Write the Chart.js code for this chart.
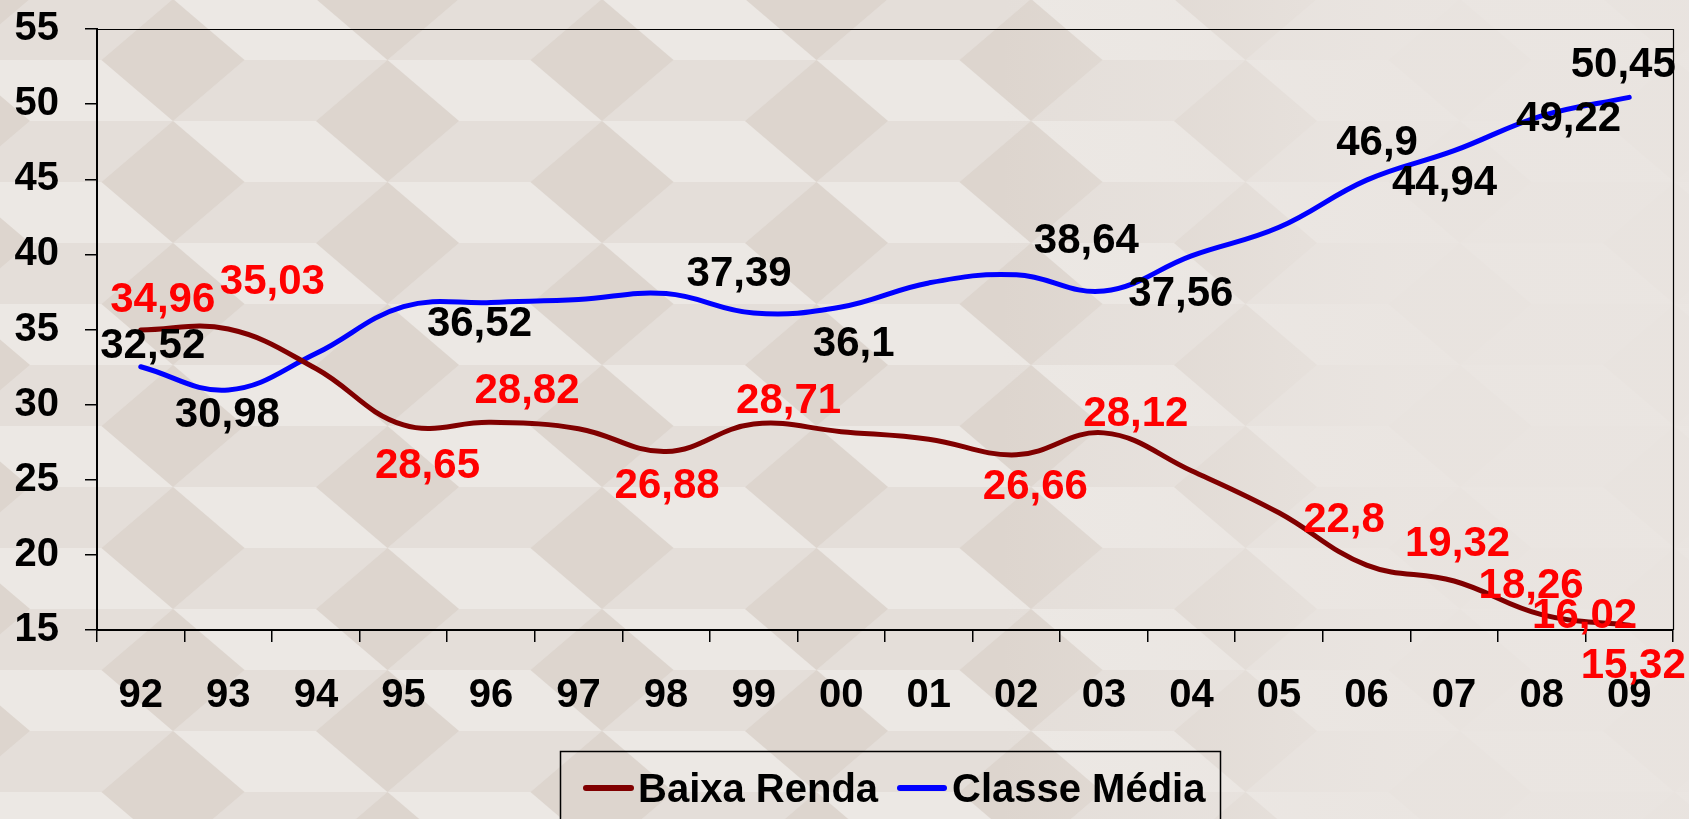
<!DOCTYPE html>
<html>
<head>
<meta charset="utf-8">
<script src="https://cdn.jsdelivr.net/npm/chart.js@4/dist/chart.umd.min.js"></script>
<style>
html,body{margin:0;padding:0;background:#e9e4e0;overflow:hidden}
canvas{display:block}
</style>
</head>
<body>
<canvas id="c" width="1689" height="819"></canvas>
<script>
// ---- data ----
const categories = ['92','93','94','95','96','97','98','99','00','01','02','03','04','05','06','07','08','09'];
const baixaRenda  = [34.96, 35.03, 32.4, 28.65, 28.82, 28.4, 26.88, 28.71, 28.2, 27.7, 26.66, 28.12, 25.6, 22.8, 19.32, 18.26, 16.02, 15.32];
const classeMedia = [32.52, 30.98, 33.4, 36.52, 36.8, 37.0, 37.39, 36.1, 36.5, 38.1, 38.64, 37.56, 39.9, 41.8, 44.94, 46.9, 49.22, 50.45];
const baixaRendaLabeled  = [0,1,3,4,6,7,10,11,13,14,15,16,17];
const classeMediaLabeled = [0,1,3,6,7,10,11,14,15,16,17];
const yTicks = [15,20,25,30,35,40,45,50,55];
const seriesNames = ['Baixa Renda','Classe Média'];

// ---- label placement (layout only) ----
const baixaRendaLabelOffsets = {0:[22,-33],1:[44,-50],3:[24,38],4:[36,-34],6:[1,31],7:[35,-26],10:[19,29],11:[32,-22],13:[65,4],14:[91,-24],15:[77,2],16:[43,-2],17:[4,38]};
const classeMediaLabelOffsets = {0:[12,-24],1:[-1,22],3:[76,14],6:[73,-23],7:[100,28],10:[70,-37],11:[77,0],14:[78,0],15:[-77,-11],16:[27,0],17:[-6,-35]};

const FONT = '"Liberation Sans", Arial, sans-serif';
const fmt = v => String(v).replace('.', ',');

const backgroundPlugin = {
  id: 'bg',
  beforeDraw(chart) {
    const ctx = chart.ctx, W = chart.width, H = chart.height;
    ctx.save();
    ctx.fillStyle = '#eae5e1';
    ctx.fillRect(0, 0, W, H);
    const s = 61, R = 143;
    const cols = ['#ece8e4', '#e4ded9', '#ddd5ce'];
    for (let ci = -1; ci * 1.5 * R < W + R; ci++) {
      const cx = ci * 1.5 * R + 30;
      const yoff = (((ci % 2) + 2) % 2 === 0) ? 0 : s;
      for (let ri = -1; ri * 2 * s < H + 2 * s; ri++) {
        const cy = ri * 2 * s + yoff - 1;
        const P = {
          r: [cx + R, cy], lr: [cx + R / 2, cy + s], ll: [cx - R / 2, cy + s],
          l: [cx - R, cy], ul: [cx - R / 2, cy - s], ur: [cx + R / 2, cy - s], c: [cx, cy]
        };
        const faces = [[P.ul, P.ur, P.r, P.c], [P.r, P.lr, P.ll, P.c], [P.ll, P.l, P.ul, P.c]];
        faces.forEach((f, k) => {
          ctx.beginPath();
          ctx.moveTo(f[0][0], f[0][1]);
          for (let j = 1; j < f.length; j++) ctx.lineTo(f[j][0], f[j][1]);
          ctx.closePath();
          ctx.fillStyle = cols[k];
          ctx.fill();
        });
      }
    }
    const g = ctx.createLinearGradient(1000, 0, 1400, 0);
    g.addColorStop(0, 'rgba(234,229,225,0)');
    g.addColorStop(1, 'rgba(234,229,225,0.9)');
    ctx.fillStyle = g;
    ctx.fillRect(0, 0, W, H);
    ctx.restore();
  }
};

const framePlugin = {
  id: 'frame',
  beforeDatasetsDraw(chart) {
    const a = chart.chartArea, ctx = chart.ctx;
    ctx.save();
    ctx.strokeStyle = '#000';
    ctx.lineWidth = 1.2;
    ctx.beginPath();
    ctx.moveTo(a.left, a.top + 0.5);
    ctx.lineTo(a.right + 0.5, a.top + 0.5);
    ctx.lineTo(a.right + 0.5, a.bottom);
    ctx.stroke();
    ctx.restore();
  }
};

const labelPlugin = {
  id: 'pointLabels',
  afterDatasetsDraw(chart) {
    const ctx = chart.ctx;
    const specs = [
      {ds: 0, idx: baixaRendaLabeled, off: baixaRendaLabelOffsets, color: '#ff0000'},
      {ds: 1, idx: classeMediaLabeled, off: classeMediaLabelOffsets, color: '#000000'}
    ];
    ctx.save();
    const fs = 42;
    ctx.font = 'bold ' + fs + 'px ' + FONT;
    ctx.textAlign = 'center';
    ctx.textBaseline = 'alphabetic';
    specs.forEach(sp => {
      const meta = chart.getDatasetMeta(sp.ds);
      const data = chart.data.datasets[sp.ds].data;
      sp.idx.forEach(i => {
        const pt = meta.data[i];
        const o = sp.off[i] || [0, -30];
        ctx.fillStyle = sp.color;
        ctx.fillText(fmt(data[i]), pt.x + o[0], pt.y + o[1] + 0.358 * fs);
      });
    });
    ctx.restore();
  }
};

const legendPlugin = {
  id: 'boxLegend',
  afterDraw(chart) {
    const ctx = chart.ctx;
    ctx.save();
    ctx.strokeStyle = '#000';
    ctx.lineWidth = 1.5;
    ctx.strokeRect(560.5, 751.5, 660, 100);
    const fs = 40;
    ctx.font = 'bold ' + fs + 'px ' + FONT;
    ctx.textBaseline = 'alphabetic';
    ctx.textAlign = 'left';
    const items = [
      {x0: 586, x1: 631, tx: 638},
      {x0: 900, x1: 944, tx: 952}
    ];
    chart.data.datasets.forEach((ds, k) => {
      const it = items[k];
      ctx.strokeStyle = ds.borderColor;
      ctx.lineWidth = 6;
      ctx.lineCap = 'round';
      ctx.beginPath();
      ctx.moveTo(it.x0, 788);
      ctx.lineTo(it.x1, 788);
      ctx.stroke();
      ctx.fillStyle = '#000';
      ctx.fillText(ds.label, it.tx, 802);
    });
    ctx.restore();
  }
};

const tickFont = {family: FONT, size: 40, weight: 'bold'};

new Chart(document.getElementById('c'), {
  type: 'line',
  data: {
    labels: categories,
    datasets: [
      {label: seriesNames[0], data: baixaRenda, borderColor: '#800000', backgroundColor: '#800000',
       borderWidth: 5, pointRadius: 0, tension: 0.4, fill: false, borderCapStyle: 'round'},
      {label: seriesNames[1], data: classeMedia, borderColor: '#0000ff', backgroundColor: '#0000ff',
       borderWidth: 5, pointRadius: 0, tension: 0.4, fill: false, borderCapStyle: 'round'}
    ]
  },
  options: {
    responsive: false,
    animation: false,
    devicePixelRatio: 1,
    layout: {padding: {top: 29, right: 16, bottom: 99, left: 0}},
    plugins: {legend: {display: false}, tooltip: {enabled: false}},
    scales: {
      x: {
        offset: true,
        grid: {offset: true, drawOnChartArea: false, drawTicks: true, tickLength: 12, color: '#000', lineWidth: 1.5},
        border: {display: true, color: '#000', width: 2},
        ticks: {color: '#000', font: tickFont, padding: 30, maxRotation: 0, autoSkip: false},
        afterFit(s) { s.height = 90; s.paddingLeft = 0; s.paddingRight = 0; }
      },
      y: {
        min: 15, max: 55,
        afterBuildTicks(s) { s.ticks = yTicks.map(v => ({value: v})); },
        grid: {drawOnChartArea: false, drawTicks: true, tickLength: 12, color: '#000', lineWidth: 1.5},
        border: {display: true, color: '#000', width: 2},
        ticks: {color: '#000', font: tickFont, padding: 26},
        afterFit(s) { s.width = 97; s.paddingTop = 0; s.paddingBottom = 0; }
      }
    }
  },
  plugins: [backgroundPlugin, framePlugin, labelPlugin, legendPlugin]
});
</script>
</body>
</html>
